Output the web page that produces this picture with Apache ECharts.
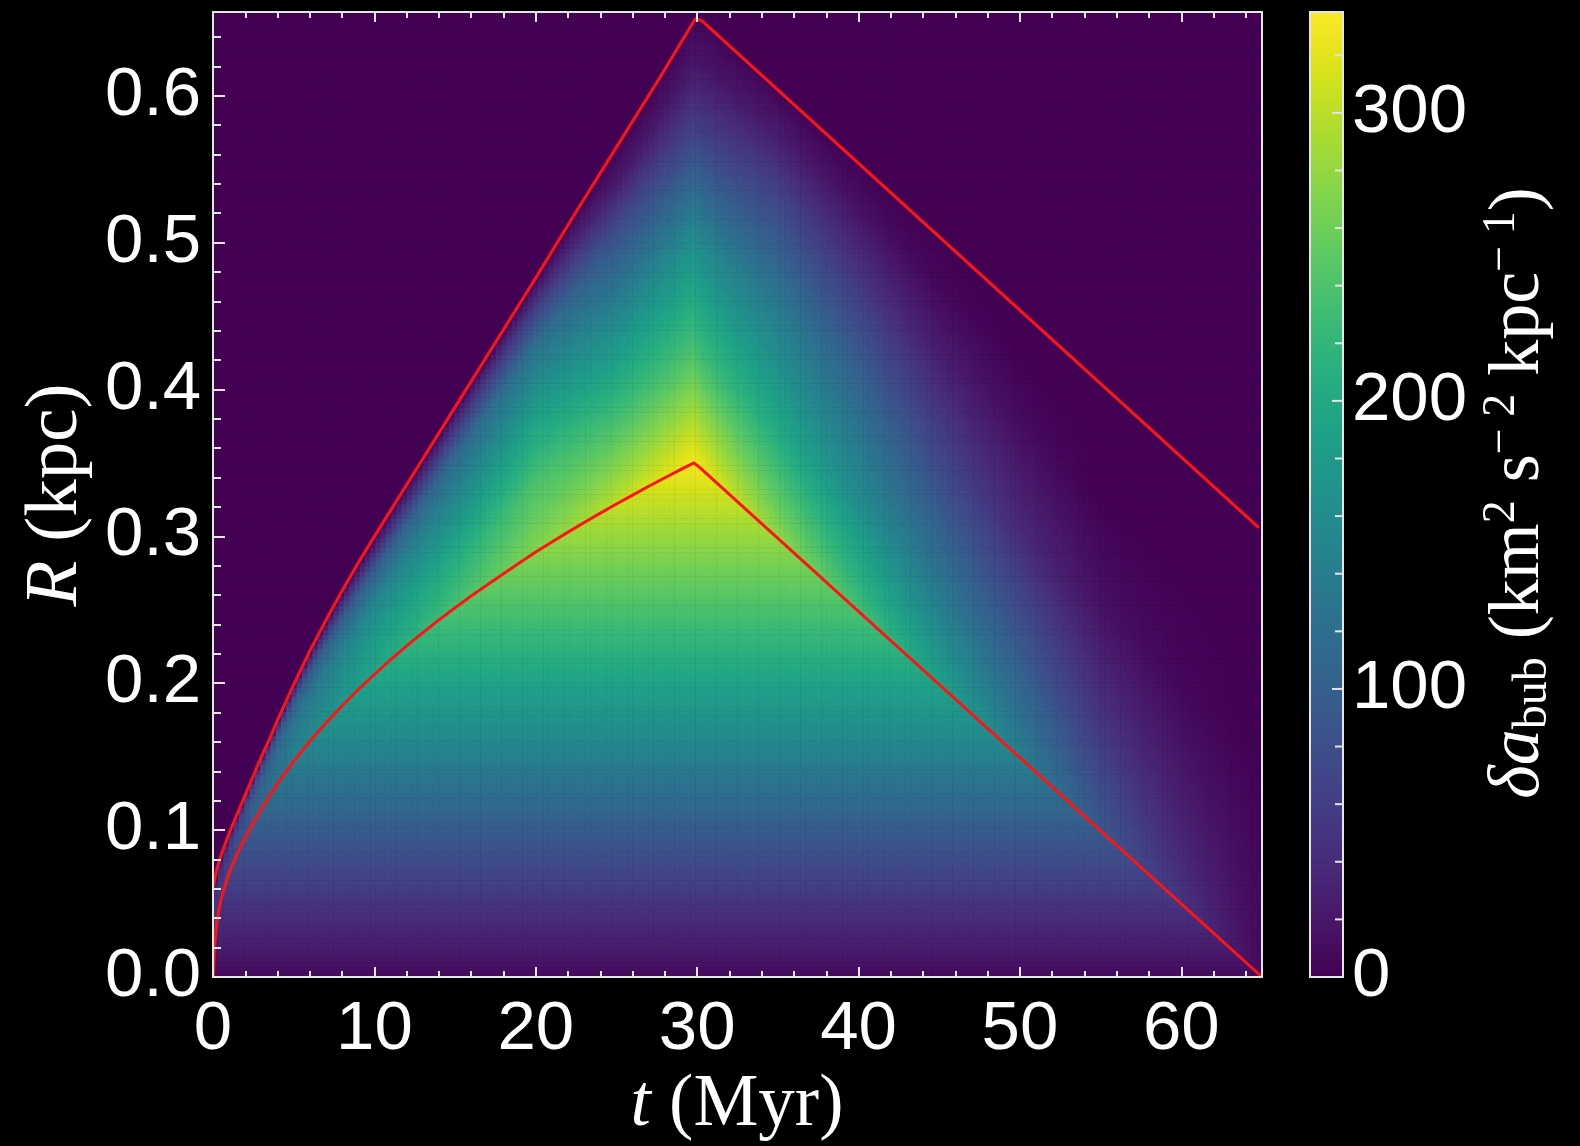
<!DOCTYPE html>
<html>
<head>
<meta charset="utf-8">
<script src="https://cdn.jsdelivr.net/npm/echarts@6/dist/echarts.min.js"></script>
<style>
  html, body { margin: 0; padding: 0; background: #000; }
  #chart { width: 1580px; height: 1146px; }
</style>
</head>
<body>
<div id="chart"></div>
<script>
// ---- Bubble boundaries: inner (hot interior) and outer (shell front), t in Myr, R in kpc
const innerTime = [0.02, 0.08, 0.15, 0.25, 0.4, 0.6, 0.8, 1, 1.5, 2, 2.5, 3, 3.5, 4, 4.5, 5, 6, 7, 8, 9, 10,
                   11, 12, 13, 14, 15, 16, 17, 18, 19, 20, 21, 22, 23, 24, 25, 26, 27, 28, 29, 29.8, 30.2, 65];
const innerRadius = [0, 0.018, 0.028, 0.038, 0.048, 0.057, 0.064, 0.071, 0.084, 0.095, 0.105, 0.1145, 0.1232, 0.1315, 0.1394, 0.147,
                     0.1605, 0.173, 0.1847, 0.1957, 0.2061, 0.216, 0.2254, 0.2344, 0.2431, 0.2514, 0.2594, 0.2671, 0.2746,
                     0.2820, 0.2893, 0.2962, 0.3029, 0.3094, 0.3158, 0.3220, 0.3281, 0.3341, 0.3399, 0.3456, 0.3500, 0.3465, 0];

const outerTime = [0.02, 0.25, 0.5, 1, 1.5, 2, 2.5, 3, 3.5, 4, 5, 6, 7, 8, 9, 10,
                   12.5, 15, 17.5, 20, 22.5, 25, 27.5, 29.9, 30.3, 64.8];
const outerRadius = [0.062, 0.074, 0.083, 0.098, 0.111, 0.124, 0.137, 0.150, 0.162, 0.175, 0.199, 0.222, 0.243, 0.263, 0.282, 0.300,
                     0.344, 0.388, 0.432, 0.476, 0.521, 0.565, 0.609, 0.6526, 0.651, 0.306];

// ---- delta a_bub inside the inner boundary (depends on R only)
const coreRadius = [0, 0.05, 0.1, 0.15, 0.2, 0.25, 0.3, 0.35];
const coreValue  = [8, 50, 95, 145, 193, 238, 282, 330];

// ---- delta a_bub in the shell, by time and by fractional depth
//      (0 = inner boundary, 1 = outer boundary)
const shellTime     = [0.5, 2.5, 5, 10, 15, 20, 25, 29.8, 30.2, 35, 40, 45, 50, 55, 60, 65];
const shellFraction = [0, 0.25, 0.5, 0.75, 0.9, 1.0];
const shellValue = [
  [ 52,  55,  50,  40,  20, 0],
  [ 98, 100,  95,  75,  35, 0],
  [143, 140, 130, 100,  45, 0],
  [197, 182, 155, 100,  35, 0],
  [237, 205, 160, 115,  50, 0],
  [272, 240, 188, 125,  55, 0],
  [302, 230, 160,  85,  22, 0],
  [330, 240, 165,  65,  20, 5],
  [326, 230, 155,  60,  18, 3],
  [279, 200, 140,  72,  25, 3],
  [235, 160, 110,  50,  15, 0],
  [190, 125,  72,  25,   5, 0],
  [142,  92,  40,  10,   0, 0],
  [ 93,  50,  15,   0,   0, 0],
  [ 49,  25,   5,   0,   0, 0],
  [  8,   5,   0,   0,   0, 0]
];

// ---- Axes
const tTicks   = [0, 10, 20, 30, 40, 50, 60];
const rTicks   = [0.0, 0.1, 0.2, 0.3, 0.4, 0.5, 0.6];
const barTicks = [0, 100, 200, 300];
const BAR_MINOR = 20;
const T_MAX = 65, R_MAX = 0.657, V_MAX = 335;

const viridis = ['#440154', '#48186a', '#472d7b', '#424086', '#3b528b', '#33638d', '#2c728e', '#26828e',
                 '#21918c', '#1fa088', '#28ae80', '#3fbc73', '#5ec962', '#84d44b', '#addc30', '#d8e219', '#fde725'];

function lookup(xs, ys, x) {
  if (x <= xs[0]) return ys[0];
  const n = xs.length;
  if (x >= xs[n - 1]) return ys[n - 1];
  let k = 1;
  while (xs[k] < x) k++;
  const f = (x - xs[k - 1]) / (xs[k] - xs[k - 1]);
  return ys[k - 1] + f * (ys[k] - ys[k - 1]);
}
function shellLookup(t, s) {
  const column = shellValue.map(row => lookup(shellFraction, row, s));
  return lookup(shellTime, column, t);
}

// raster of the map
const N_T = 200, N_R = 200;
const cellT = [], cellR = [];
for (let i = 0; i < N_T; i++) cellT.push(((i + 0.5) * T_MAX / N_T).toFixed(4));
for (let j = 0; j < N_R; j++) cellR.push(((j + 0.5) * R_MAX / N_R).toFixed(5));

const cells = [];
for (let i = 0; i < N_T; i++) {
  const t = +cellT[i];
  const rin = lookup(innerTime, innerRadius, t);
  const rout = lookup(outerTime, outerRadius, t);
  for (let j = 0; j < N_R; j++) {
    const r = +cellR[j];
    let v;
    if (r <= rin) v = lookup(coreRadius, coreValue, r);
    else {
      const s = (r - rin) / (rout - rin);
      v = s >= 1 ? 0 : shellLookup(t, s);
    }
    cells.push([i, j, Math.round(v * 10) / 10]);
  }
}

const innerLine = innerTime.map((t, k) => [t, innerRadius[k]]);
const outerLine = outerTime.map((t, k) => [t, outerRadius[k]]);

const frameColor = '#e4e4e4';
const labelFont = { color: '#fff', fontSize: 69, fontFamily: 'Liberation Sans, Arial, sans-serif' };

const chart = echarts.init(document.getElementById('chart'), null, { renderer: 'canvas' });
chart.setOption({
  backgroundColor: '#000',
  animation: false,
  grid: [
    { left: 213, top: 12, width: 1049, height: 965 },
    { left: 1310, top: 12, width: 33, height: 965 }
  ],
  visualMap: {
    type: 'continuous', show: false, seriesIndex: 0,
    min: 0, max: V_MAX, inRange: { color: viridis }
  },
  xAxis: [
    { type: 'category', gridIndex: 0, data: cellT, show: false },
    {
      type: 'value', gridIndex: 0, position: 'bottom', min: 0, max: T_MAX, interval: 10, z: 6,
      axisLine: { show: true, onZero: false, lineStyle: { color: frameColor, width: 2 } },
      axisTick: { show: true, inside: true, length: 10, lineStyle: { color: frameColor, width: 2 } },
      minorTick: { show: true, splitNumber: 5, length: 6, lineStyle: { color: frameColor, width: 2 } },
      axisLabel: Object.assign({ margin: 18, showMaxLabel: false,
        formatter: v => tTicks.includes(v) ? String(v) : '' }, labelFont),
      splitLine: { show: false }
    },
    {
      type: 'value', gridIndex: 0, position: 'top', min: 0, max: T_MAX, interval: 10, z: 6,
      axisLine: { show: true, onZero: false, lineStyle: { color: frameColor, width: 2 } },
      axisTick: { show: true, inside: true, length: 10, lineStyle: { color: frameColor, width: 2 } },
      minorTick: { show: true, splitNumber: 5, length: 6, lineStyle: { color: frameColor, width: 2 } },
      axisLabel: { show: false }, splitLine: { show: false }
    },
    { type: 'value', gridIndex: 1, min: 0, max: 1, show: false }
  ],
  yAxis: [
    { type: 'category', gridIndex: 0, data: cellR, show: false },
    {
      type: 'value', gridIndex: 0, position: 'left', min: 0, max: R_MAX, interval: 0.1, z: 6,
      axisLine: { show: true, onZero: false, lineStyle: { color: frameColor, width: 2 } },
      axisTick: { show: true, inside: true, length: 12, lineStyle: { color: frameColor, width: 2 } },
      minorTick: { show: true, splitNumber: 5, length: 8, lineStyle: { color: frameColor, width: 2 } },
      axisLabel: Object.assign({ margin: 12, showMaxLabel: false,
        formatter: v => rTicks.some(x => Math.abs(x - v) < 1e-9) ? v.toFixed(1) : '' }, labelFont),
      splitLine: { show: false }
    },
    {
      type: 'value', gridIndex: 0, position: 'right', min: 0, max: R_MAX, z: 6,
      axisLine: { show: true, onZero: false, lineStyle: { color: frameColor, width: 2 } },
      axisTick: { show: false }, minorTick: { show: false }, axisLabel: { show: false }, splitLine: { show: false }
    },
    {
      type: 'value', gridIndex: 1, position: 'right', min: 0, max: V_MAX, interval: 100, z: 6,
      axisLine: { show: false }, axisTick: { show: false }, minorTick: { show: false },
      axisLabel: Object.assign({ margin: 9, showMaxLabel: false,
        formatter: v => barTicks.includes(v) ? String(v) : '' }, labelFont),
      splitLine: { show: false }
    }
  ],
  series: [
    {
      type: 'heatmap', xAxisIndex: 0, yAxisIndex: 0, data: cells,
      progressive: 0, itemStyle: { borderWidth: 0 }, emphasis: { disabled: true }, z: 1
    },
    {
      type: 'line', xAxisIndex: 1, yAxisIndex: 1, data: outerLine, showSymbol: false, z: 4,
      lineStyle: { color: '#ff1414', width: 3 }, clip: true
    },
    {
      type: 'line', xAxisIndex: 1, yAxisIndex: 1, data: innerLine, showSymbol: false, z: 4,
      lineStyle: { color: '#ff1414', width: 3 }, clip: true
    },
    {
      // colour bar with its inward ticks
      type: 'custom', xAxisIndex: 3, yAxisIndex: 3, data: [[0, V_MAX]], z: 3,
      renderItem: (params, api) => {
        const p0 = api.coord([0, 0]);
        const p1 = api.coord([1, api.value(1)]);
        const box = { x: p0[0], y: p1[1], width: p1[0] - p0[0], height: p0[1] - p1[1] };
        const children = [{
          type: 'rect', shape: box,
          style: {
            fill: new echarts.graphic.LinearGradient(0, 1, 0, 0,
              viridis.map((c, k) => ({ offset: k / (viridis.length - 1), color: c })))
          }
        }];
        for (let v = 0; v <= V_MAX; v += BAR_MINOR) {
          const y = api.coord([1, v])[1];
          const len = barTicks.includes(v) ? 11 : 8;
          children.push({
            type: 'line', shape: { x1: p1[0], y1: y, x2: p1[0] - len, y2: y },
            style: { stroke: frameColor, lineWidth: 2 }
          });
        }
        children.push({ type: 'rect', shape: box, style: { fill: null, stroke: frameColor, lineWidth: 2 } });
        return { type: 'group', children };
      }
    }
  ],
  graphic: [
    {
      type: 'text', x: 737, y: 1106,
      style: {
        text: '{i|t}{n| (Myr)}', align: 'center', verticalAlign: 'middle',
        rich: {
          i: { fill: '#fff', fontSize: 73, fontFamily: 'Liberation Serif', fontStyle: 'italic' },
          n: { fill: '#fff', fontSize: 73, fontFamily: 'Liberation Serif' }
        }
      }
    },
    {
      type: 'text', x: 56, y: 495, rotation: Math.PI / 2,
      style: {
        text: '{i|R}{n| (kpc)}', align: 'center', verticalAlign: 'middle',
        rich: {
          i: { fill: '#fff', fontSize: 75, fontFamily: 'Liberation Serif', fontStyle: 'italic' },
          n: { fill: '#fff', fontSize: 75, fontFamily: 'Liberation Serif' }
        }
      }
    },
    {
      type: 'text', x: 1519, y: 493, rotation: Math.PI / 2,
      style: {
        text: '{i|δa}{sub|bub}{n| (km}{sup|2}{n| s}{sup|− 2}{n| kpc}{sup|− 1}{n|)}',
        align: 'center', verticalAlign: 'middle',
        rich: {
          i:   { fill: '#fff', fontSize: 72, lineHeight: 72, fontFamily: 'Liberation Serif', fontStyle: 'italic' },
          n:   { fill: '#fff', fontSize: 72, lineHeight: 72, fontFamily: 'Liberation Serif' },
          sub: { fill: '#fff', fontSize: 48, lineHeight: 48, fontFamily: 'Liberation Serif', padding: [28, 0, 0, 0] },
          sup: { fill: '#fff', fontSize: 46, lineHeight: 46, fontFamily: 'Liberation Serif', padding: [0, 0, 34, 0] }
        }
      }
    }
  ]
});
</script>
</body>
</html>
